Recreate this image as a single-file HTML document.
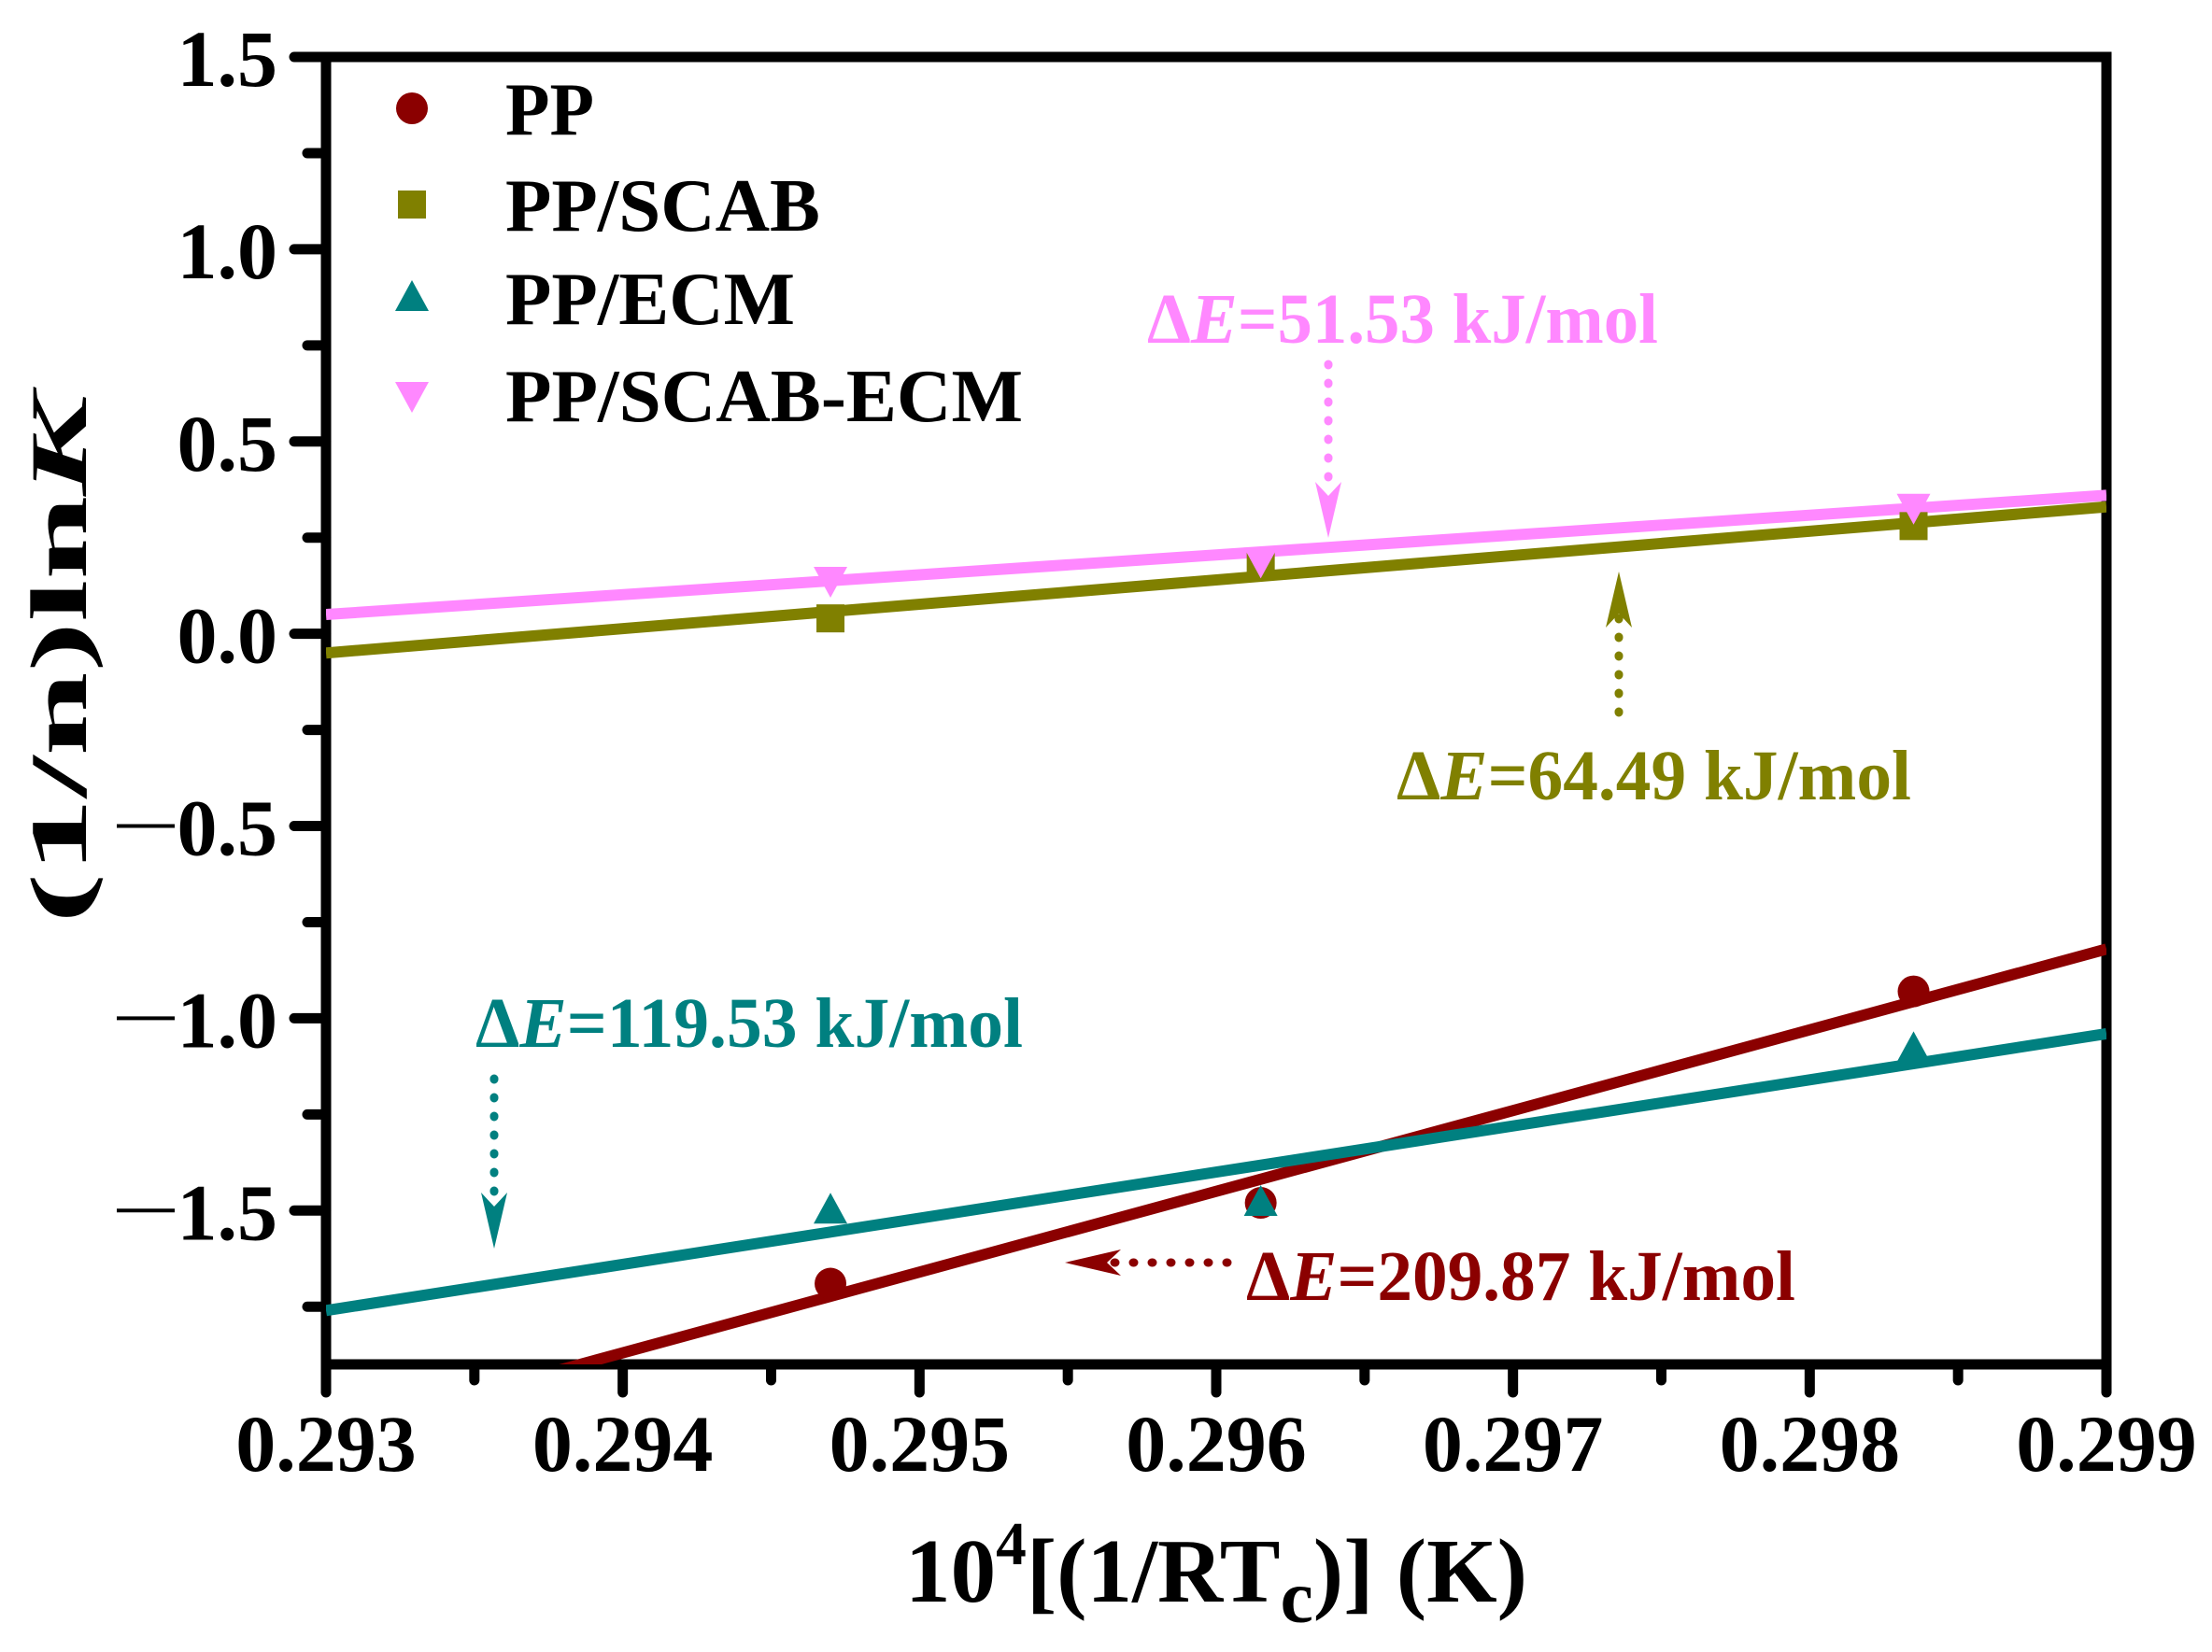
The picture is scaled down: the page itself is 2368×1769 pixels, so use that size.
<!DOCTYPE html>
<html><head><meta charset="utf-8"><style>
html,body{margin:0;padding:0;background:#fff}
svg{display:block;font-family:"Liberation Serif","Times New Roman",serif;font-weight:bold}
</style></head><body>
<svg id="chart" width="2368" height="1769" viewBox="0 0 2368 1769" xmlns="http://www.w3.org/2000/svg">
<g id="axes"></g>
<g id="plot"></g>
<g id="legend"></g>
<g id="notes"></g>
</svg>
<script>
const xTicks = [0.293, 0.294, 0.295, 0.296, 0.297, 0.298, 0.299];
const xTickLabels = ["0.293","0.294","0.295","0.296","0.297","0.298","0.299"];
const yTicks = [1.5, 1.0, 0.5, 0.0, -0.5, -1.0, -1.5];
const yTickLabels = ["1.5","1.0","0.5","0.0","0.5","1.0","1.5"];
const seriesNames = ["PP","PP/SCAB","PP/ECM","PP/SCAB-ECM"];
const xPts = [0.2947, 0.29615, 0.29835];
const ppVals = [-1.69, -1.48, -0.93];
const scabVals = [0.04, 0.18, 0.28];
const ecmVals = [-1.50, -1.48, -1.08];
const scabEcmVals = [0.14, 0.19, 0.33];
const fitX = [0.293, 0.299];
const ppFit = [-2.08, -0.82];
const scabFit = [-0.05, 0.33];
const ecmFit = [-1.76, -1.04];
const scabEcmFit = [0.05, 0.36];

const NS="http://www.w3.org/2000/svg";
const X0=349,X1=2255,Y0=61,Y1=1461,xmin=0.293,xmax=0.299,ymin=-1.9,ymax=1.5;
const sx=v=>X0+(v-xmin)/(xmax-xmin)*(X1-X0);
const sy=v=>Y1-(v-ymin)/(ymax-ymin)*(Y1-Y0);
function mk(tag,attrs,parent,text){const e=document.createElementNS(NS,tag);for(const k in attrs)e.setAttribute(k,attrs[k]);if(text!==undefined)e.textContent=text;parent.appendChild(e);return e;}
const axes=document.getElementById('axes'),plot=document.getElementById('plot'),legend=document.getElementById('legend'),notes=document.getElementById('notes');

const defs=mk('defs',{},plot);const cp=mk('clipPath',{id:'clip'},defs);mk('rect',{x:X0,y:Y0,width:X1-X0,height:Y1-Y0},cp);

// frame
let a=mk('rect',{x:X0,y:Y0,width:X1-X0,height:Y1-Y0,fill:'none',stroke:'#000','stroke-width':11},axes);

xTicks.forEach((v,i)=>{
  const t=mk('line',{x1:sx(v),y1:Y1,x2:sx(v),y2:Y1+30,stroke:'#000','stroke-width':11,'stroke-linecap':'round'},axes);
  
  if(i<xTicks.length-1){mk('line',{x1:sx(v+0.0005),y1:Y1,x2:sx(v+0.0005),y2:Y1+17,stroke:'#000','stroke-width':11,'stroke-linecap':'round'},axes);}
  const l=mk('text',{x:sx(v),y:1575,'text-anchor':'middle','font-size':86},axes,xTickLabels[i]);
  
});
yTicks.forEach((v,i)=>{
  const t=mk('line',{x1:X0-34,y1:sy(v),x2:X0,y2:sy(v),stroke:'#000','stroke-width':11,'stroke-linecap':'round'},axes);
  
  mk('line',{x1:X0-20,y1:sy(v-0.25),x2:X0,y2:sy(v-0.25),stroke:'#000','stroke-width':11,'stroke-linecap':'round'},axes);
  const l=mk('text',{x:297,y:sy(v)+31,'text-anchor':'end','font-size':86},axes,yTickLabels[i]);
  
  if(v<0){
    const d=mk('line',{x1:125,y1:sy(v),x2:187,y2:sy(v),stroke:'#000','stroke-width':4},axes);
    
  }
});
let xt=mk('text',{x:1302,y:1715,'text-anchor':'middle','font-size':98,textLength:666,lengthAdjust:'spacingAndGlyphs'},axes);

xt.innerHTML='10<tspan dy="-40" font-size="66">4</tspan><tspan dy="40">[(1/RT</tspan><tspan dy="22" font-size="80">c</tspan><tspan dy="-22">)] (K)</tspan>';
let yt=mk('text',{x:0,y:0,'text-anchor':'middle','font-size':86,textLength:566,lengthAdjust:'spacingAndGlyphs',transform:'translate(92,706) rotate(-90)'},axes);

yt.innerHTML='(1/n)ln<tspan font-style="italic">K</tspan>';

const colors=['#8b0000','#808000','#008080','#ff88ff'];
const vals=[ppVals,scabVals,ecmVals,scabEcmVals];
const fits=[ppFit,scabFit,ecmFit,scabEcmFit];
const gc=mk('g',{'clip-path':'url(#clip)'},plot);
fits.forEach((f,i)=>{
  const l=mk('line',{x1:sx(fitX[0]),y1:sy(f[0]),x2:sx(fitX[1]),y2:sy(f[1]),stroke:colors[i],'stroke-width':12},gc);
  
});
function marker(i,x,y,parent){
  let e;
  if(i===0)e=mk('circle',{cx:x,cy:y,r:17,fill:colors[0]},parent);
  else if(i===1)e=mk('rect',{x:x-15,y:y-15,width:30,height:30,fill:colors[1]},parent);
  else if(i===2)e=mk('polygon',{points:`${x},${y-19} ${x-18},${y+14} ${x+18},${y+14}`,fill:colors[2]},parent);
  else e=mk('polygon',{points:`${x},${y+19} ${x-18},${y-14} ${x+18},${y-14}`,fill:colors[3]},parent);
  return e;
}
vals.forEach((arr,i)=>{
  arr.forEach((v,j)=>{
    const m=marker(i,sx(xPts[j]),sy(v),plot);
    
    
  });
});

const ly=[116,219,319,423];
const lw=[95,337,310,554];
seriesNames.forEach((n,i)=>{
  const m=marker(i,441,ly[i],legend);
  
  const t=mk('text',{x:541,y:ly[i]+28,'font-size':80,textLength:lw[i],lengthAdjust:'spacingAndGlyphs'},legend,n);
  
});

function note(txt,x,y,color,w){
  const t=mk('text',{x:x,y:y,'font-size':76,fill:color,textLength:w,lengthAdjust:'spacingAndGlyphs'},notes);
  t.innerHTML='\u0394<tspan font-style="italic">E</tspan>='+txt+' kJ/mol';
  
}
function arrow(x1,y1,x2,y2,color){
  const g=mk('g',{},notes);
  
  const dx=x2-x1,dy=y2-y1,L=Math.hypot(dx,dy),ux=dx/L,uy=dy/L;
  mk('line',{x1:x1,y1:y1,x2:x2-ux*50,y2:y2-uy*50,stroke:color,'stroke-width':9,'stroke-dasharray':'1 19','stroke-linecap':'round'},g);
  const bx=x2-ux*60,by=y2-uy*60,px=-uy,py=ux;
  mk('polygon',{points:`${x2},${y2} ${bx+px*14},${by+py*14} ${x2-ux*45},${y2-uy*45} ${bx-px*14},${by-py*14}`,fill:color},g);
}
note('51.53',1228,367,'#ff88ff',547);
arrow(1422,390,1422,576,'#ff88ff');
note('64.49',1495,856,'#808000',551);
arrow(1733,763,1733,612,'#808000');
note('119.53',509,1121,'#008080',586);
arrow(529,1155,529,1337,'#008080');
note('209.87',1334,1392,'#8b0000',588);
arrow(1314,1352,1140,1352,'#8b0000');
</script>
</body></html>
